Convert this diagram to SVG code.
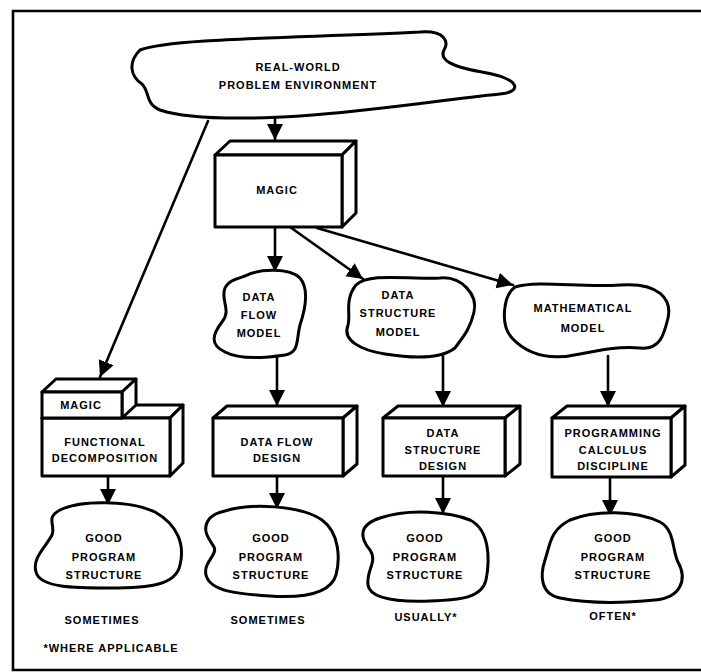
<svg xmlns="http://www.w3.org/2000/svg" width="701" height="672" viewBox="0 0 701 672">
  <style>
    .outline { fill: #fff; stroke: #000; stroke-width: 3; stroke-linejoin: round; stroke-linecap: round; }
    .edge { fill: none; stroke: #000; stroke-width: 2.6; stroke-linecap: round; }
    .frame { fill: none; stroke: #000; stroke-width: 2.6; }
    text { font-family: "Liberation Sans", Arial, sans-serif; font-size: 11px; font-weight: bold; letter-spacing: 1px; text-anchor: middle; fill: #000; }
  </style>
  <defs>
    <marker id="head" markerUnits="userSpaceOnUse" markerWidth="16" markerHeight="18" viewBox="0 0 16 18" refX="16" refY="8" orient="auto">
      <path d="M0,0 L16,8 L0,16 Z" fill="#000"/>
    </marker>
  </defs>

  <!-- page frame: top, left and bottom rules -->
  <path class="frame" d="M701,11 L13,11 L13,670 L701,670"/>

  <!-- connectors -->
  <g id="connectors">
    <line class="edge" x1="275" y1="118" x2="275" y2="140" marker-end="url(#head)"/>
    <line class="edge" x1="208" y1="121" x2="100" y2="377" marker-end="url(#head)"/>
    <line class="edge" x1="275" y1="227" x2="275" y2="272" marker-end="url(#head)"/>
    <line class="edge" x1="290" y1="227" x2="363" y2="279" marker-end="url(#head)"/>
    <line class="edge" x1="317" y1="228" x2="513" y2="285" marker-end="url(#head)"/>
    <line class="edge" x1="277" y1="356" x2="277" y2="406" marker-end="url(#head)"/>
    <line class="edge" x1="443" y1="356" x2="443" y2="407" marker-end="url(#head)"/>
    <line class="edge" x1="608" y1="356" x2="608" y2="407" marker-end="url(#head)"/>
    <line class="edge" x1="108" y1="476" x2="108" y2="505" marker-end="url(#head)"/>
    <line class="edge" x1="277" y1="476" x2="277" y2="509" marker-end="url(#head)"/>
    <line class="edge" x1="443" y1="476" x2="443" y2="514" marker-end="url(#head)"/>
    <line class="edge" x1="610" y1="477" x2="610" y2="516" marker-end="url(#head)"/>
  </g>

  <!-- source environment -->
  <g id="real-world">
    <path class="outline" d="M140,50 C170,38 300,38 420,32 C445,30 449,42 444,50 C439,60 452,67 482,72 C522,79 522,92 500,94 C440,100 380,110 300,116 C250,119 190,120 160,110 C145,104 150,92 142,84 C130,76 128,62 140,50 Z"/>
    <text x="298" y="71">REAL-WORLD</text>
    <text x="298" y="89">PROBLEM ENVIRONMENT</text>
  </g>

  <g id="magic">
    <path class="outline" d="M215,155 L230,141 L356,141 L342,155 Z"/>
    <path class="outline" d="M342,155 L356,141 L356,213 L342,227 Z"/>
    <rect class="outline" x="215" y="155" width="127" height="72"/>
    <text x="277" y="194">MAGIC</text>
  </g>

  <!-- models -->
  <g id="data-flow-model">
    <path class="outline" d="M245,276 C260,268 290,268 300,278 C310,290 305,310 300,325 C296,340 300,352 285,355 C265,358 240,360 225,352 C210,345 212,335 222,322 C232,310 220,300 225,288 C228,281 236,279 245,276 Z"/>
    <text x="259" y="301">DATA</text>
    <text x="259" y="319">FLOW</text>
    <text x="259" y="337">MODEL</text>
  </g>

  <g id="data-structure-model">
    <path class="outline" d="M356,285 C370,272 410,280 440,278 C462,276 478,295 474,312 C470,330 462,338 455,348 C440,360 410,358 385,354 C360,350 342,340 348,325 C351,315 344,300 356,285 Z"/>
    <text x="398" y="299">DATA</text>
    <text x="398" y="317">STRUCTURE</text>
    <text x="398" y="336">MODEL</text>
  </g>

  <g id="mathematical-model">
    <path class="outline" d="M515,287 C540,280 580,288 620,285 C660,282 672,300 668,318 C664,335 660,350 640,348 C620,346 600,350 580,354 C545,362 525,352 512,338 C500,325 503,296 515,287 Z"/>
    <text x="583" y="312">MATHEMATICAL</text>
    <text x="583" y="332">MODEL</text>
  </g>

  <!-- designs -->
  <g id="functional-decomposition">
    <path class="outline" d="M42,418 L56,405 L183,405 L170,418 Z"/>
    <path class="outline" d="M170,418 L183,405 L183,463 L170,476 Z"/>
    <rect class="outline" x="42" y="418" width="128" height="58"/>
    <text x="105" y="446">FUNCTIONAL</text>
    <text x="105" y="462">DECOMPOSITION</text>
  </g>

  <g id="magic-small">
    <path class="outline" d="M42,392 L56,379 L136,379 L122,392 Z"/>
    <path class="outline" d="M122,392 L136,379 L136,405 L122,418 Z"/>
    <rect class="outline" x="42" y="392" width="80" height="26"/>
    <text x="81" y="409">MAGIC</text>
  </g>

  <g id="data-flow-design">
    <path class="outline" d="M213,418 L227,406 L357,406 L343,418 Z"/>
    <path class="outline" d="M343,418 L357,406 L357,464 L343,476 Z"/>
    <rect class="outline" x="213" y="418" width="130" height="58"/>
    <text x="277" y="446">DATA FLOW</text>
    <text x="277" y="462">DESIGN</text>
  </g>

  <g id="data-structure-design">
    <path class="outline" d="M383,418 L398,406 L520,406 L505,418 Z"/>
    <path class="outline" d="M505,418 L520,406 L520,464 L505,476 Z"/>
    <rect class="outline" x="383" y="418" width="122" height="58"/>
    <text x="443" y="437">DATA</text>
    <text x="443" y="454">STRUCTURE</text>
    <text x="443" y="470">DESIGN</text>
  </g>

  <g id="programming-calculus">
    <path class="outline" d="M552,418 L567,406 L685,406 L671,418 Z"/>
    <path class="outline" d="M671,418 L685,406 L685,465 L671,477 Z"/>
    <rect class="outline" x="552" y="418" width="119" height="59"/>
    <text x="613" y="437">PROGRAMMING</text>
    <text x="613" y="454">CALCULUS</text>
    <text x="613" y="470">DISCIPLINE</text>
  </g>

  <!-- outcomes -->
  <g id="result-1">
    <path class="outline" d="M60,510 C80,500 130,500 155,512 C178,525 185,545 180,565 C176,585 150,588 110,588 C75,588 40,588 36,572 C32,558 45,548 52,535 C56,525 45,518 60,510 Z"/>
    <text x="104" y="542">GOOD</text>
    <text x="104" y="561">PROGRAM</text>
    <text x="104" y="579">STRUCTURE</text>
  </g>

  <g id="result-2">
    <path class="outline" d="M225,511 C250,503 300,505 322,520 C340,533 340,560 336,575 C330,595 300,598 270,596 C240,594 210,592 206,575 C203,562 218,555 214,547 C210,540 200,530 210,518 C214,514 220,512 225,511 Z"/>
    <text x="271" y="542">GOOD</text>
    <text x="271" y="561">PROGRAM</text>
    <text x="271" y="579">STRUCTURE</text>
  </g>

  <g id="result-3">
    <path class="outline" d="M380,518 C410,508 450,512 470,520 C490,530 490,560 486,580 C482,598 460,600 430,601 C400,602 370,600 368,585 C366,570 378,562 370,550 C360,538 358,525 380,518 Z"/>
    <text x="425" y="542">GOOD</text>
    <text x="425" y="561">PROGRAM</text>
    <text x="425" y="579">STRUCTURE</text>
  </g>

  <g id="result-4">
    <path class="outline" d="M570,520 C595,510 635,510 660,522 C675,530 672,550 678,562 C688,580 680,598 655,600 C625,603 590,604 560,598 C540,594 540,575 545,560 C550,545 550,530 570,520 Z"/>
    <text x="613" y="542">GOOD</text>
    <text x="613" y="561">PROGRAM</text>
    <text x="613" y="579">STRUCTURE</text>
  </g>

  <!-- frequency notes -->
  <g id="notes">
    <text x="102" y="624">SOMETIMES</text>
    <text x="268" y="624">SOMETIMES</text>
    <text x="426" y="621">USUALLY*</text>
    <text x="613" y="620">OFTEN*</text>
    <text x="111" y="652">*WHERE APPLICABLE</text>
  </g>
</svg>
